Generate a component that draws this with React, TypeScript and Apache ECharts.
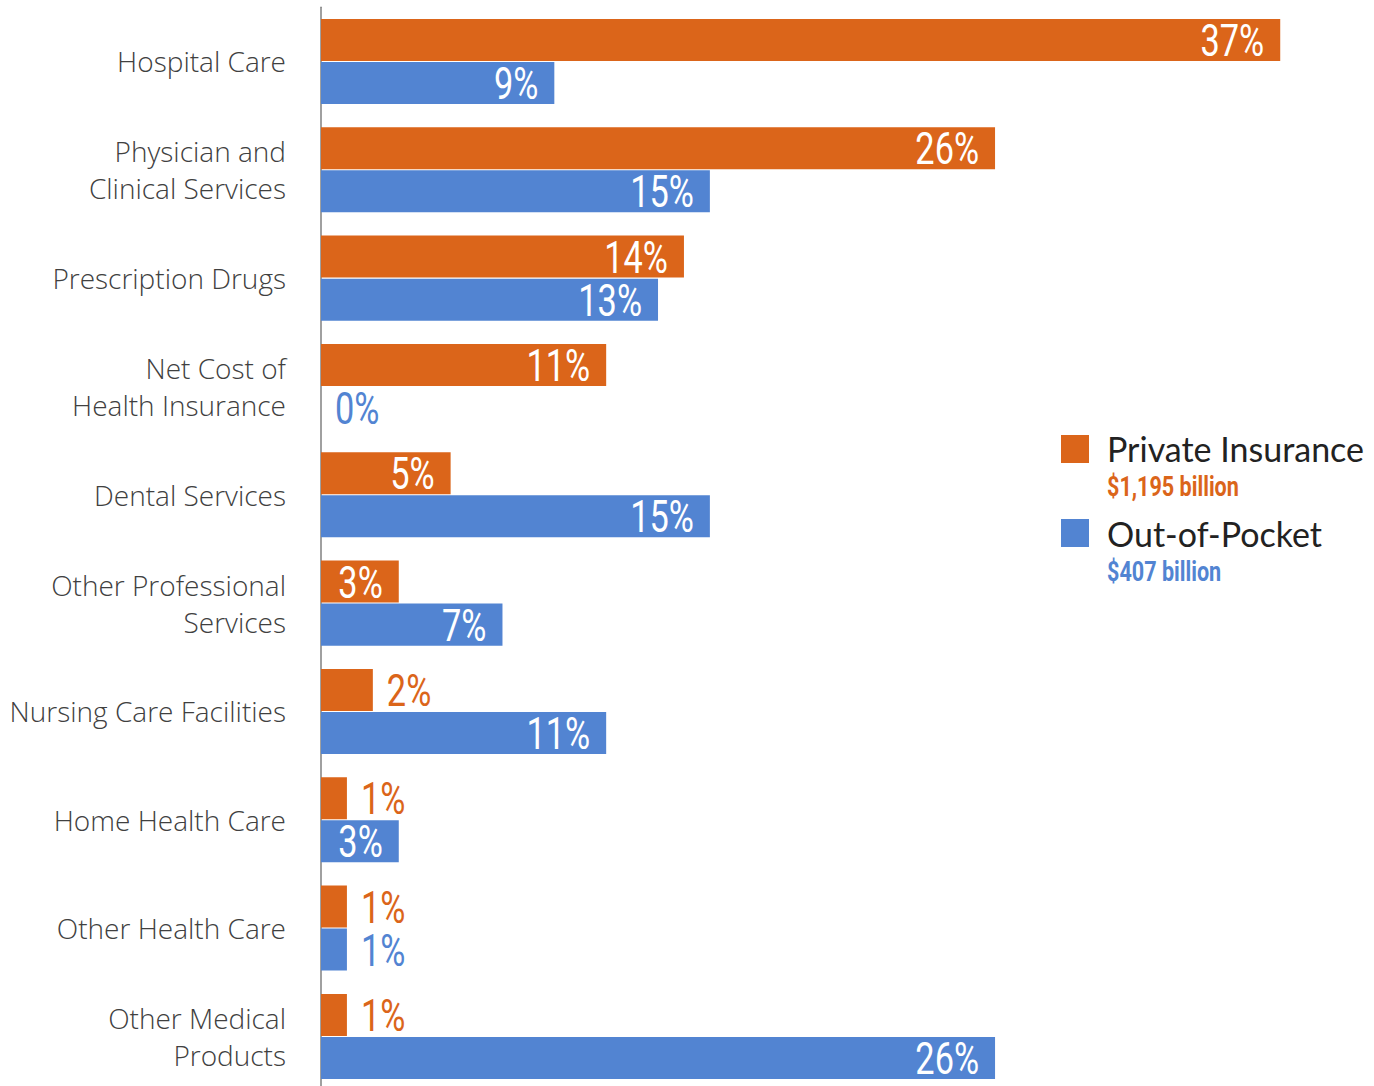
import React, { useEffect, useRef } from "react";
import * as echarts from "echarts";

const categories = [
  "Hospital Care",
  "Physician and\nClinical Services",
  "Prescription Drugs",
  "Net Cost of\nHealth Insurance",
  "Dental Services",
  "Other Professional\nServices",
  "Nursing Care Facilities",
  "Home Health Care",
  "Other Health Care",
  "Other Medical\nProducts",
];
const privateInsurance = [37, 26, 14, 11, 5, 3, 2, 1, 1, 1];
const outOfPocket = [9, 15, 13, 0, 15, 7, 11, 3, 1, 26];
const seriesNames = ["Private Insurance", "Out-of-Pocket"];
const seriesTotals = ["$1,195 billion", "$407 billion"];

const ORANGE = "#DB651A";
const BLUE = "#5284D2";
const NUMFONT = "Roboto, sans-serif";
const LIGHT = '"Open Sans", "Segoe UI", Lato, sans-serif';

function labelSeries(values: number[], color: string, offset: number) {
  return {
    type: "custom",
    data: values.map((v, i) => [v, i]),
    encode: { x: 0, y: 1 },
    z: 5,
    silent: true,
    renderItem: (params: any, api: any) => {
      const v = api.value(0);
      const i = api.value(1);
      const p = api.coord([v, i]);
      const inside = v >= 3;
      return {
        type: "text",
        x: inside ? p[0] - 16 : p[0] + 14,
        y: p[1] + offset + 1,
        scaleX: 0.78,
        style: {
          text: `${v}%`,
          fill: inside ? "#ffffff" : color,
          font: `44px ${NUMFONT}`,
          align: inside ? "right" : "left",
          verticalAlign: "middle",
        },
      };
    },
  };
}

export default function App() {
  const ref = useRef<HTMLDivElement>(null);
  useEffect(() => {
    if (!ref.current) return;
    const chart = echarts.init(ref.current, null, { renderer: "svg" });
    chart.setOption({
      animation: false,
      grid: { left: 321, top: 7.3, width: 1037, height: 1083.3, containLabel: false },
      xAxis: {
        type: "value",
        min: 0,
        max: 40,
        show: false,
      },
      yAxis: {
        type: "category",
        inverse: true,
        data: categories,
        axisLine: { show: true, lineStyle: { color: "#808080", width: 1.5 } },
        axisTick: { show: false },
        axisLabel: {
          margin: 35,
          fontFamily: LIGHT,
          fontWeight: 300,
          fontSize: 28,
          lineHeight: 37,
          color: "#404040",
          align: "right",
        },
      },
      series: [
        {
          name: seriesNames[0],
          type: "bar",
          data: privateInsurance,
          itemStyle: { color: ORANGE },
          barCategoryGap: "21.5%",
          barGap: "2.4%",
        },
        {
          name: seriesNames[1],
          type: "bar",
          data: outOfPocket,
          itemStyle: { color: BLUE },
          barCategoryGap: "21.5%",
          barGap: "2.4%",
        },
        labelSeries(privateInsurance, ORANGE, -21.5),
        labelSeries(outOfPocket, BLUE, 21.5),
      ],
      graphic: [
        { type: "rect", shape: { x: 1061, y: 435, width: 28, height: 28 }, style: { fill: ORANGE } },
        {
          type: "text",
          x: 1107,
          y: 448,
          style: { text: seriesNames[0], font: "34px Lato, sans-serif", fill: "#222222", verticalAlign: "middle" },
        },
        {
          type: "text",
          x: 1107,
          y: 487,
          scaleX: 0.8,
          style: { text: seriesTotals[0], font: `bold 27px ${NUMFONT}`, fill: ORANGE, verticalAlign: "middle" },
        },
        { type: "rect", shape: { x: 1061, y: 519, width: 28, height: 28 }, style: { fill: BLUE } },
        {
          type: "text",
          x: 1107,
          y: 533,
          style: { text: seriesNames[1], font: "34px Lato, sans-serif", fill: "#222222", verticalAlign: "middle" },
        },
        {
          type: "text",
          x: 1107,
          y: 572,
          scaleX: 0.8,
          style: { text: seriesTotals[1], font: `bold 27px ${NUMFONT}`, fill: BLUE, verticalAlign: "middle" },
        },
      ],
    });
    return () => chart.dispose();
  }, []);
  return (
    <div
      ref={ref}
      style={{ position: "fixed", left: 0, top: 0, width: 1374, height: 1092, background: "#ffffff" }}
    />
  );
}
